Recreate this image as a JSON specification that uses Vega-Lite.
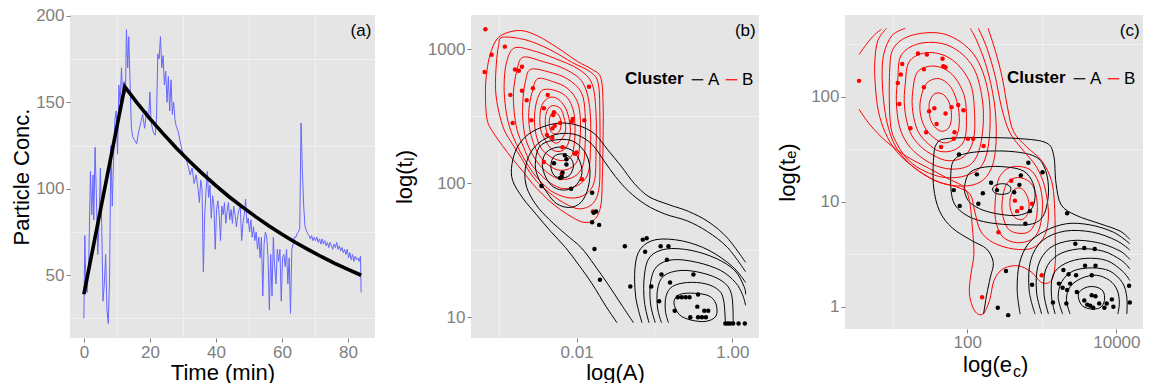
{
"$schema":"https://vega.github.io/schema/vega-lite/v6.json",
"padding":{"left":10,"top":6,"right":0,"bottom":0},
"background":"white",
"config":{
"view":{"fill":"#E5E5E5","stroke":null},
"font":"Liberation Sans",
"axis":{"labelFont":"Liberation Sans","titleFont":"Liberation Sans","labelFontSize":17,"labelColor":"#7F7F7F","titleFontSize":22,"titleFontWeight":"normal","titleColor":"#000000","tickColor":"#7F7F7F","tickSize":4,"labelPadding":2,"domain":false,"gridColor":"#FFFFFF","gridWidth":1.4,"labelFlush":false,"labelOverlap":false,"titlePadding":2},
"text":{"font":"Liberation Sans"}
},
"datasets":{
"blue":[{"t":0,"v":25},{"t":0.3,"v":73},{"t":0.6,"v":45},{"t":1,"v":40},{"t":1.5,"v":60},{"t":2,"v":110},{"t":2.4,"v":85},{"t":2.8,"v":108},{"t":3,"v":82},{"t":3.4,"v":124},{"t":3.8,"v":95},{"t":4.2,"v":62},{"t":4.6,"v":80},{"t":5,"v":112},{"t":5.4,"v":80},{"t":5.8,"v":35},{"t":6.2,"v":45},{"t":6.6,"v":62},{"t":7,"v":30},{"t":7.4,"v":22},{"t":7.8,"v":50},{"t":8.2,"v":125},{"t":8.6,"v":90},{"t":9,"v":118},{"t":9.4,"v":140},{"t":9.8,"v":145},{"t":10.2,"v":120},{"t":10.6,"v":160},{"t":11,"v":150},{"t":11.4,"v":170},{"t":11.8,"v":150},{"t":12.2,"v":162},{"t":12.6,"v":155},{"t":12.9,"v":192},{"t":13.3,"v":170},{"t":13.6,"v":188},{"t":14,"v":162},{"t":14.4,"v":135},{"t":14.8,"v":130},{"t":15.4,"v":128},{"t":16,"v":126},{"t":16.6,"v":133},{"t":17.2,"v":138},{"t":17.8,"v":143},{"t":18.4,"v":135},{"t":19,"v":145},{"t":19.6,"v":140},{"t":20,"v":156},{"t":20.4,"v":138},{"t":21,"v":133},{"t":21.6,"v":131},{"t":22,"v":140},{"t":22.4,"v":178},{"t":22.8,"v":175},{"t":23.2,"v":188},{"t":23.6,"v":170},{"t":24,"v":177},{"t":24.4,"v":160},{"t":24.8,"v":168},{"t":25.2,"v":150},{"t":25.6,"v":165},{"t":26,"v":145},{"t":26.4,"v":163},{"t":26.8,"v":143},{"t":27.2,"v":150},{"t":27.6,"v":140},{"t":28,"v":136},{"t":28.6,"v":133},{"t":29.2,"v":127},{"t":29.8,"v":122},{"t":30.4,"v":118},{"t":31,"v":117},{"t":31.6,"v":113},{"t":32.2,"v":108},{"t":32.8,"v":112},{"t":33.4,"v":103},{"t":34,"v":108},{"t":34.6,"v":100},{"t":35,"v":92},{"t":35.4,"v":105},{"t":35.8,"v":100},{"t":36.2,"v":52},{"t":36.6,"v":85},{"t":37,"v":98},{"t":37.4,"v":110},{"t":37.8,"v":95},{"t":38.2,"v":102},{"t":38.6,"v":83},{"t":39,"v":96},{"t":39.4,"v":90},{"t":39.8,"v":65},{"t":40.2,"v":88},{"t":40.6,"v":93},{"t":41,"v":85},{"t":41.4,"v":70},{"t":41.8,"v":90},{"t":42.2,"v":85},{"t":42.6,"v":92},{"t":43,"v":80},{"t":43.4,"v":87},{"t":43.8,"v":92},{"t":44.2,"v":82},{"t":44.6,"v":88},{"t":45,"v":80},{"t":45.4,"v":90},{"t":45.8,"v":85},{"t":46.2,"v":78},{"t":46.6,"v":84},{"t":47,"v":88},{"t":47.4,"v":90},{"t":47.8,"v":70},{"t":48.2,"v":80},{"t":48.6,"v":85},{"t":49,"v":94},{"t":49.4,"v":80},{"t":49.8,"v":83},{"t":50.2,"v":75},{"t":50.6,"v":82},{"t":51,"v":72},{"t":51.4,"v":78},{"t":51.8,"v":70},{"t":52.2,"v":75},{"t":52.6,"v":65},{"t":53,"v":72},{"t":53.4,"v":60},{"t":53.8,"v":72},{"t":54.2,"v":38},{"t":54.6,"v":68},{"t":55,"v":75},{"t":55.4,"v":72},{"t":55.8,"v":60},{"t":56.2,"v":30},{"t":56.6,"v":62},{"t":57,"v":38},{"t":57.4,"v":72},{"t":57.8,"v":55},{"t":58.2,"v":45},{"t":58.6,"v":65},{"t":59,"v":58},{"t":59.4,"v":65},{"t":59.8,"v":35},{"t":60.2,"v":60},{"t":60.6,"v":62},{"t":61,"v":55},{"t":61.4,"v":65},{"t":61.8,"v":45},{"t":62.2,"v":60},{"t":62.6,"v":28},{"t":63,"v":65},{"t":63.4,"v":68},{"t":63.8,"v":72},{"t":64.2,"v":72},{"t":64.6,"v":74},{"t":65,"v":75},{"t":65.4,"v":77},{"t":65.8,"v":138},{"t":66.2,"v":110},{"t":66.6,"v":90},{"t":67,"v":78},{"t":67.4,"v":76},{"t":67.8,"v":74},{"t":68.2,"v":73},{"t":68.6,"v":71},{"t":69,"v":73},{"t":69.4,"v":70},{"t":69.8,"v":72},{"t":70.2,"v":70},{"t":70.6,"v":72},{"t":71,"v":69},{"t":71.4,"v":71},{"t":71.8,"v":68},{"t":72.2,"v":71},{"t":72.6,"v":68},{"t":73,"v":70},{"t":73.4,"v":67},{"t":73.8,"v":69},{"t":74.2,"v":66},{"t":74.6,"v":69},{"t":75,"v":67},{"t":75.4,"v":65},{"t":75.8,"v":68},{"t":76.2,"v":66},{"t":76.6,"v":69},{"t":77,"v":65},{"t":77.4,"v":67},{"t":77.8,"v":64},{"t":78.2,"v":66},{"t":78.6,"v":63},{"t":79,"v":65},{"t":79.4,"v":62},{"t":79.8,"v":65},{"t":80.2,"v":60},{"t":80.6,"v":63},{"t":81,"v":59},{"t":81.4,"v":62},{"t":81.8,"v":58},{"t":82.2,"v":61},{"t":82.6,"v":59},{"t":83,"v":60},{"t":83.4,"v":58},{"t":83.8,"v":61},{"t":84,"v":40}],
"fit":[{"t":0,"f":39},{"t":12.4,"f":159},{"t":16,"f":150},{"t":20,"f":140.6},{"t":24,"f":131.9},{"t":28,"f":123.6},{"t":32,"f":115.9},{"t":36,"f":108.6},{"t":40,"f":101.8},{"t":44,"f":95.4},{"t":48,"f":89.5},{"t":52,"f":83.9},{"t":56,"f":78.6},{"t":60,"f":73.7},{"t":64,"f":69.1},{"t":68,"f":64.8},{"t":72,"f":60.7},{"t":76,"f":56.9},{"t":80,"f":53.4},{"t":84,"f":50}],
"bClosed":[
{"id":"R1","i":0,"x":-2.29,"y":2.53,"cl":"B"},{"id":"R1","i":1,"x":-2.23,"y":2.51,"cl":"B"},{"id":"R1","i":2,"x":-2.2,"y":2.46,"cl":"B"},{"id":"R1","i":3,"x":-2.21,"y":2.4,"cl":"B"},{"id":"R1","i":4,"x":-2.26,"y":2.37,"cl":"B"},{"id":"R1","i":5,"x":-2.32,"y":2.38,"cl":"B"},{"id":"R1","i":6,"x":-2.35,"y":2.43,"cl":"B"},{"id":"R1","i":7,"x":-2.34,"y":2.5,"cl":"B"},
{"id":"R2","i":0,"x":-2.31,"y":2.58,"cl":"B"},{"id":"R2","i":1,"x":-2.21,"y":2.56,"cl":"B"},{"id":"R2","i":2,"x":-2.16,"y":2.49,"cl":"B"},{"id":"R2","i":3,"x":-2.14,"y":2.4,"cl":"B"},{"id":"R2","i":4,"x":-2.19,"y":2.33,"cl":"B"},{"id":"R2","i":5,"x":-2.26,"y":2.3,"cl":"B"},{"id":"R2","i":6,"x":-2.34,"y":2.33,"cl":"B"},{"id":"R2","i":7,"x":-2.39,"y":2.4,"cl":"B"},{"id":"R2","i":8,"x":-2.4,"y":2.49,"cl":"B"},{"id":"R2","i":9,"x":-2.37,"y":2.55,"cl":"B"},
{"id":"R3","i":0,"x":-2.35,"y":2.64,"cl":"B"},{"id":"R3","i":1,"x":-2.24,"y":2.63,"cl":"B"},{"id":"R3","i":2,"x":-2.14,"y":2.56,"cl":"B"},{"id":"R3","i":3,"x":-2.09,"y":2.46,"cl":"B"},{"id":"R3","i":4,"x":-2.08,"y":2.37,"cl":"B"},{"id":"R3","i":5,"x":-2.12,"y":2.28,"cl":"B"},{"id":"R3","i":6,"x":-2.2,"y":2.24,"cl":"B"},{"id":"R3","i":7,"x":-2.31,"y":2.25,"cl":"B"},{"id":"R3","i":8,"x":-2.4,"y":2.32,"cl":"B"},{"id":"R3","i":9,"x":-2.46,"y":2.4,"cl":"B"},{"id":"R3","i":10,"x":-2.47,"y":2.5,"cl":"B"},{"id":"R3","i":11,"x":-2.44,"y":2.59,"cl":"B"},
{"id":"R4","i":0,"x":-2.42,"y":2.7,"cl":"B"},{"id":"R4","i":1,"x":-2.26,"y":2.69,"cl":"B"},{"id":"R4","i":2,"x":-2.12,"y":2.64,"cl":"B"},{"id":"R4","i":3,"x":-2.04,"y":2.54,"cl":"B"},{"id":"R4","i":4,"x":-2.02,"y":2.42,"cl":"B"},{"id":"R4","i":5,"x":-2.03,"y":2.29,"cl":"B"},{"id":"R4","i":6,"x":-2.07,"y":2.2,"cl":"B"},{"id":"R4","i":7,"x":-2.18,"y":2.17,"cl":"B"},{"id":"R4","i":8,"x":-2.31,"y":2.19,"cl":"B"},{"id":"R4","i":9,"x":-2.44,"y":2.25,"cl":"B"},{"id":"R4","i":10,"x":-2.51,"y":2.34,"cl":"B"},{"id":"R4","i":11,"x":-2.54,"y":2.45,"cl":"B"},{"id":"R4","i":12,"x":-2.53,"y":2.56,"cl":"B"},{"id":"R4","i":13,"x":-2.49,"y":2.65,"cl":"B"},
{"id":"R5","i":0,"x":-2.5,"y":2.78,"cl":"B"},{"id":"R5","i":1,"x":-2.31,"y":2.76,"cl":"B"},{"id":"R5","i":2,"x":-2.12,"y":2.71,"cl":"B"},{"id":"R5","i":3,"x":-1.99,"y":2.61,"cl":"B"},{"id":"R5","i":4,"x":-1.95,"y":2.47,"cl":"B"},{"id":"R5","i":5,"x":-1.96,"y":2.29,"cl":"B"},{"id":"R5","i":6,"x":-1.99,"y":2.17,"cl":"B"},{"id":"R5","i":7,"x":-2.09,"y":2.11,"cl":"B"},{"id":"R5","i":8,"x":-2.24,"y":2.1,"cl":"B"},{"id":"R5","i":9,"x":-2.39,"y":2.15,"cl":"B"},{"id":"R5","i":10,"x":-2.5,"y":2.23,"cl":"B"},{"id":"R5","i":11,"x":-2.57,"y":2.33,"cl":"B"},{"id":"R5","i":12,"x":-2.61,"y":2.44,"cl":"B"},{"id":"R5","i":13,"x":-2.61,"y":2.56,"cl":"B"},{"id":"R5","i":14,"x":-2.57,"y":2.68,"cl":"B"},
{"id":"R6","i":0,"x":-2.59,"y":2.85,"cl":"B"},{"id":"R6","i":1,"x":-2.35,"y":2.83,"cl":"B"},{"id":"R6","i":2,"x":-2.12,"y":2.78,"cl":"B"},{"id":"R6","i":3,"x":-1.94,"y":2.68,"cl":"B"},{"id":"R6","i":4,"x":-1.89,"y":2.52,"cl":"B"},{"id":"R6","i":5,"x":-1.89,"y":2.29,"cl":"B"},{"id":"R6","i":6,"x":-1.92,"y":2.13,"cl":"B"},{"id":"R6","i":7,"x":-2.03,"y":2.05,"cl":"B"},{"id":"R6","i":8,"x":-2.2,"y":2.03,"cl":"B"},{"id":"R6","i":9,"x":-2.35,"y":2.07,"cl":"B"},{"id":"R6","i":10,"x":-2.48,"y":2.14,"cl":"B"},{"id":"R6","i":11,"x":-2.59,"y":2.24,"cl":"B"},{"id":"R6","i":12,"x":-2.66,"y":2.35,"cl":"B"},{"id":"R6","i":13,"x":-2.69,"y":2.48,"cl":"B"},{"id":"R6","i":14,"x":-2.69,"y":2.61,"cl":"B"},{"id":"R6","i":15,"x":-2.66,"y":2.75,"cl":"B"},
{"id":"R7","i":0,"x":-2.69,"y":2.94,"cl":"B"},{"id":"R7","i":1,"x":-2.44,"y":2.91,"cl":"B"},{"id":"R7","i":2,"x":-2.14,"y":2.85,"cl":"B"},{"id":"R7","i":3,"x":-1.92,"y":2.75,"cl":"B"},{"id":"R7","i":4,"x":-1.83,"y":2.56,"cl":"B"},{"id":"R7","i":5,"x":-1.82,"y":2.29,"cl":"B"},{"id":"R7","i":6,"x":-1.85,"y":2.08,"cl":"B"},{"id":"R7","i":7,"x":-1.97,"y":1.99,"cl":"B"},{"id":"R7","i":8,"x":-2.16,"y":1.96,"cl":"B"},{"id":"R7","i":9,"x":-2.33,"y":2.0,"cl":"B"},{"id":"R7","i":10,"x":-2.47,"y":2.07,"cl":"B"},{"id":"R7","i":11,"x":-2.59,"y":2.15,"cl":"B"},{"id":"R7","i":12,"x":-2.68,"y":2.27,"cl":"B"},{"id":"R7","i":13,"x":-2.76,"y":2.39,"cl":"B"},{"id":"R7","i":14,"x":-2.8,"y":2.53,"cl":"B"},{"id":"R7","i":15,"x":-2.81,"y":2.68,"cl":"B"},{"id":"R7","i":16,"x":-2.77,"y":2.83,"cl":"B"},
{"id":"R8","i":0,"x":-2.8,"y":3.01,"cl":"B"},{"id":"R8","i":1,"x":-2.56,"y":2.99,"cl":"B"},{"id":"R8","i":2,"x":-2.27,"y":2.93,"cl":"B"},{"id":"R8","i":3,"x":-1.97,"y":2.85,"cl":"B"},{"id":"R8","i":4,"x":-1.8,"y":2.74,"cl":"B"},{"id":"R8","i":5,"x":-1.75,"y":2.52,"cl":"B"},{"id":"R8","i":6,"x":-1.75,"y":2.24,"cl":"B"},{"id":"R8","i":7,"x":-1.77,"y":2.02,"cl":"B"},{"id":"R8","i":8,"x":-1.88,"y":1.92,"cl":"B"},{"id":"R8","i":9,"x":-2.07,"y":1.89,"cl":"B"},{"id":"R8","i":10,"x":-2.29,"y":1.93,"cl":"B"},{"id":"R8","i":11,"x":-2.44,"y":2.0,"cl":"B"},{"id":"R8","i":12,"x":-2.56,"y":2.08,"cl":"B"},{"id":"R8","i":13,"x":-2.67,"y":2.18,"cl":"B"},{"id":"R8","i":14,"x":-2.77,"y":2.29,"cl":"B"},{"id":"R8","i":15,"x":-2.86,"y":2.42,"cl":"B"},{"id":"R8","i":16,"x":-2.91,"y":2.56,"cl":"B"},{"id":"R8","i":17,"x":-2.93,"y":2.73,"cl":"B"},{"id":"R8","i":18,"x":-2.9,"y":2.9,"cl":"B"},
{"id":"R9","i":0,"x":-2.95,"y":3.09,"cl":"B"},{"id":"R9","i":1,"x":-2.65,"y":3.07,"cl":"B"},{"id":"R9","i":2,"x":-2.35,"y":3.0,"cl":"B"},{"id":"R9","i":3,"x":-2.05,"y":2.9,"cl":"B"},{"id":"R9","i":4,"x":-1.82,"y":2.83,"cl":"B"},{"id":"R9","i":5,"x":-1.72,"y":2.74,"cl":"B"},{"id":"R9","i":6,"x":-1.7,"y":2.49,"cl":"B"},{"id":"R9","i":7,"x":-1.7,"y":2.22,"cl":"B"},{"id":"R9","i":8,"x":-1.71,"y":1.97,"cl":"B"},{"id":"R9","i":9,"x":-1.79,"y":1.85,"cl":"B"},{"id":"R9","i":10,"x":-1.97,"y":1.81,"cl":"B"},{"id":"R9","i":11,"x":-2.18,"y":1.86,"cl":"B"},{"id":"R9","i":12,"x":-2.35,"y":1.93,"cl":"B"},{"id":"R9","i":13,"x":-2.49,"y":2.0,"cl":"B"},{"id":"R9","i":14,"x":-2.61,"y":2.09,"cl":"B"},{"id":"R9","i":15,"x":-2.71,"y":2.19,"cl":"B"},{"id":"R9","i":16,"x":-2.82,"y":2.29,"cl":"B"},{"id":"R9","i":17,"x":-2.93,"y":2.4,"cl":"B"},{"id":"R9","i":18,"x":-3.0,"y":2.54,"cl":"B"},{"id":"R9","i":19,"x":-3.04,"y":2.7,"cl":"B"},{"id":"R9","i":20,"x":-3.03,"y":2.89,"cl":"B"},{"id":"R9","i":21,"x":-3.0,"y":3.03,"cl":"B"},
{"id":"R10","i":0,"x":-3.17,"y":2.69,"cl":"B"},{"id":"R10","i":1,"x":-3.15,"y":2.84,"cl":"B"},{"id":"R10","i":2,"x":-3.11,"y":2.96,"cl":"B"},{"id":"R10","i":3,"x":-3.03,"y":3.07,"cl":"B"},{"id":"R10","i":4,"x":-2.91,"y":3.12,"cl":"B"},{"id":"R10","i":5,"x":-2.71,"y":3.14,"cl":"B"},{"id":"R10","i":6,"x":-2.5,"y":3.1,"cl":"B"},{"id":"R10","i":7,"x":-2.24,"y":3.01,"cl":"B"},{"id":"R10","i":8,"x":-1.99,"y":2.91,"cl":"B"},{"id":"R10","i":9,"x":-1.8,"y":2.85,"cl":"B"},{"id":"R10","i":10,"x":-1.69,"y":2.79,"cl":"B"},{"id":"R10","i":11,"x":-1.66,"y":2.61,"cl":"B"},{"id":"R10","i":12,"x":-1.66,"y":2.32,"cl":"B"},{"id":"R10","i":13,"x":-1.67,"y":2.02,"cl":"B"},{"id":"R10","i":14,"x":-1.69,"y":1.83,"cl":"B"},{"id":"R10","i":15,"x":-1.77,"y":1.73,"cl":"B"},{"id":"R10","i":16,"x":-1.92,"y":1.71,"cl":"B"},{"id":"R10","i":17,"x":-2.12,"y":1.77,"cl":"B"},{"id":"R10","i":18,"x":-2.29,"y":1.84,"cl":"B"},{"id":"R10","i":19,"x":-2.44,"y":1.92,"cl":"B"},{"id":"R10","i":20,"x":-2.57,"y":2.0,"cl":"B"},{"id":"R10","i":21,"x":-2.69,"y":2.09,"cl":"B"},{"id":"R10","i":22,"x":-2.82,"y":2.18,"cl":"B"},{"id":"R10","i":23,"x":-2.95,"y":2.28,"cl":"B"},{"id":"R10","i":24,"x":-3.07,"y":2.38,"cl":"B"},{"id":"R10","i":25,"x":-3.15,"y":2.48,"cl":"B"},
{"id":"U1","i":0,"x":-2.33,"y":2.13,"cl":"A"},{"id":"U1","i":1,"x":-2.29,"y":2.2,"cl":"A"},{"id":"U1","i":2,"x":-2.18,"y":2.22,"cl":"A"},{"id":"U1","i":3,"x":-2.08,"y":2.19,"cl":"A"},{"id":"U1","i":4,"x":-2.04,"y":2.13,"cl":"A"},{"id":"U1","i":5,"x":-2.09,"y":2.06,"cl":"A"},{"id":"U1","i":6,"x":-2.19,"y":2.04,"cl":"A"},{"id":"U1","i":7,"x":-2.29,"y":2.06,"cl":"A"},
{"id":"U2","i":0,"x":-2.44,"y":2.14,"cl":"A"},{"id":"U2","i":1,"x":-2.39,"y":2.23,"cl":"A"},{"id":"U2","i":2,"x":-2.24,"y":2.27,"cl":"A"},{"id":"U2","i":3,"x":-2.07,"y":2.25,"cl":"A"},{"id":"U2","i":4,"x":-1.97,"y":2.18,"cl":"A"},{"id":"U2","i":5,"x":-1.93,"y":2.08,"cl":"A"},{"id":"U2","i":6,"x":-2.0,"y":1.99,"cl":"A"},{"id":"U2","i":7,"x":-2.14,"y":1.95,"cl":"A"},{"id":"U2","i":8,"x":-2.29,"y":1.97,"cl":"A"},{"id":"U2","i":9,"x":-2.39,"y":2.04,"cl":"A"},
{"id":"U3","i":0,"x":-2.53,"y":2.14,"cl":"A"},{"id":"U3","i":1,"x":-2.48,"y":2.27,"cl":"A"},{"id":"U3","i":2,"x":-2.31,"y":2.32,"cl":"A"},{"id":"U3","i":3,"x":-2.07,"y":2.32,"cl":"A"},{"id":"U3","i":4,"x":-1.9,"y":2.24,"cl":"A"},{"id":"U3","i":5,"x":-1.83,"y":2.12,"cl":"A"},{"id":"U3","i":6,"x":-1.85,"y":1.97,"cl":"A"},{"id":"U3","i":7,"x":-1.94,"y":1.86,"cl":"A"},{"id":"U3","i":8,"x":-2.09,"y":1.82,"cl":"A"},{"id":"U3","i":9,"x":-2.26,"y":1.85,"cl":"A"},{"id":"U3","i":10,"x":-2.39,"y":1.94,"cl":"A"},{"id":"U3","i":11,"x":-2.49,"y":2.04,"cl":"A"},
{"id":"L1","i":0,"x":-0.75,"y":1.11,"cl":"A"},{"id":"L1","i":1,"x":-0.68,"y":1.17,"cl":"A"},{"id":"L1","i":2,"x":-0.49,"y":1.18,"cl":"A"},{"id":"L1","i":3,"x":-0.3,"y":1.16,"cl":"A"},{"id":"L1","i":4,"x":-0.21,"y":1.1,"cl":"A"},{"id":"L1","i":5,"x":-0.21,"y":1.01,"cl":"A"},{"id":"L1","i":6,"x":-0.34,"y":0.97,"cl":"A"},{"id":"L1","i":7,"x":-0.53,"y":0.98,"cl":"A"},{"id":"L1","i":8,"x":-0.68,"y":1.02,"cl":"A"}
],
"bOpen":[
{"id":"L2","i":0,"x":-0.82,"y":0.96,"cl":"A"},{"id":"L2","i":1,"x":-0.86,"y":1.05,"cl":"A"},{"id":"L2","i":2,"x":-0.85,"y":1.16,"cl":"A"},{"id":"L2","i":3,"x":-0.77,"y":1.23,"cl":"A"},{"id":"L2","i":4,"x":-0.58,"y":1.26,"cl":"A"},{"id":"L2","i":5,"x":-0.34,"y":1.25,"cl":"A"},{"id":"L2","i":6,"x":-0.17,"y":1.2,"cl":"A"},{"id":"L2","i":7,"x":-0.11,"y":1.12,"cl":"A"},{"id":"L2","i":8,"x":-0.09,"y":0.96,"cl":"A"},
{"id":"L3","i":0,"x":-0.91,"y":0.96,"cl":"A"},{"id":"L3","i":1,"x":-0.96,"y":1.07,"cl":"A"},{"id":"L3","i":2,"x":-0.96,"y":1.21,"cl":"A"},{"id":"L3","i":3,"x":-0.88,"y":1.31,"cl":"A"},{"id":"L3","i":4,"x":-0.66,"y":1.35,"cl":"A"},{"id":"L3","i":5,"x":-0.38,"y":1.33,"cl":"A"},{"id":"L3","i":6,"x":-0.13,"y":1.27,"cl":"A"},{"id":"L3","i":7,"x":-0.01,"y":1.17,"cl":"A"},{"id":"L3","i":8,"x":0.01,"y":0.96,"cl":"A"},
{"id":"L4","i":0,"x":-0.99,"y":0.96,"cl":"A"},{"id":"L4","i":1,"x":-1.05,"y":1.1,"cl":"A"},{"id":"L4","i":2,"x":-1.05,"y":1.26,"cl":"A"},{"id":"L4","i":3,"x":-0.97,"y":1.38,"cl":"A"},{"id":"L4","i":4,"x":-0.76,"y":1.43,"cl":"A"},{"id":"L4","i":5,"x":-0.45,"y":1.41,"cl":"A"},{"id":"L4","i":6,"x":-0.15,"y":1.35,"cl":"A"},{"id":"L4","i":7,"x":0.04,"y":1.26,"cl":"A"},{"id":"L4","i":8,"x":0.13,"y":1.17,"cl":"A"},{"id":"L4","i":9,"x":0.17,"y":1.09,"cl":"A"},
{"id":"L5","i":0,"x":-1.07,"y":0.96,"cl":"A"},{"id":"L5","i":1,"x":-1.13,"y":1.12,"cl":"A"},{"id":"L5","i":2,"x":-1.13,"y":1.31,"cl":"A"},{"id":"L5","i":3,"x":-1.06,"y":1.45,"cl":"A"},{"id":"L5","i":4,"x":-0.85,"y":1.51,"cl":"A"},{"id":"L5","i":5,"x":-0.53,"y":1.5,"cl":"A"},{"id":"L5","i":6,"x":-0.21,"y":1.44,"cl":"A"},{"id":"L5","i":7,"x":0.03,"y":1.35,"cl":"A"},{"id":"L5","i":8,"x":0.15,"y":1.23,"cl":"A"},{"id":"L5","i":9,"x":0.17,"y":1.17,"cl":"A"},
{"id":"L6","i":0,"x":-1.16,"y":0.96,"cl":"A"},{"id":"L6","i":1,"x":-1.24,"y":1.15,"cl":"A"},{"id":"L6","i":2,"x":-1.25,"y":1.37,"cl":"A"},{"id":"L6","i":3,"x":-1.18,"y":1.51,"cl":"A"},{"id":"L6","i":4,"x":-0.98,"y":1.58,"cl":"A"},{"id":"L6","i":5,"x":-0.64,"y":1.57,"cl":"A"},{"id":"L6","i":6,"x":-0.3,"y":1.5,"cl":"A"},{"id":"L6","i":7,"x":0.0,"y":1.38,"cl":"A"},{"id":"L6","i":8,"x":0.17,"y":1.26,"cl":"A"},
{"id":"O1","i":0,"x":-1.27,"y":0.96,"cl":"A"},{"id":"O1","i":1,"x":-1.43,"y":1.1,"cl":"A"},{"id":"O1","i":2,"x":-1.6,"y":1.25,"cl":"A"},{"id":"O1","i":3,"x":-1.77,"y":1.39,"cl":"A"},{"id":"O1","i":4,"x":-1.94,"y":1.52,"cl":"A"},{"id":"O1","i":5,"x":-2.14,"y":1.62,"cl":"A"},{"id":"O1","i":6,"x":-2.35,"y":1.73,"cl":"A"},{"id":"O1","i":7,"x":-2.52,"y":1.84,"cl":"A"},{"id":"O1","i":8,"x":-2.64,"y":1.97,"cl":"A"},{"id":"O1","i":9,"x":-2.66,"y":2.1,"cl":"A"},{"id":"O1","i":10,"x":-2.59,"y":2.23,"cl":"A"},{"id":"O1","i":11,"x":-2.44,"y":2.32,"cl":"A"},{"id":"O1","i":12,"x":-2.22,"y":2.37,"cl":"A"},{"id":"O1","i":13,"x":-1.99,"y":2.36,"cl":"A"},{"id":"O1","i":14,"x":-1.8,"y":2.29,"cl":"A"},{"id":"O1","i":15,"x":-1.65,"y":2.17,"cl":"A"},{"id":"O1","i":16,"x":-1.5,"y":2.05,"cl":"A"},{"id":"O1","i":17,"x":-1.33,"y":1.94,"cl":"A"},{"id":"O1","i":18,"x":-1.11,"y":1.84,"cl":"A"},{"id":"O1","i":19,"x":-0.86,"y":1.77,"cl":"A"},{"id":"O1","i":20,"x":-0.58,"y":1.72,"cl":"A"},{"id":"O1","i":21,"x":-0.32,"y":1.64,"cl":"A"},{"id":"O1","i":22,"x":-0.06,"y":1.52,"cl":"A"},{"id":"O1","i":23,"x":0.17,"y":1.34,"cl":"A"},
{"id":"O2","i":0,"x":-1.48,"y":0.96,"cl":"A"},{"id":"O2","i":1,"x":-1.62,"y":1.08,"cl":"A"},{"id":"O2","i":2,"x":-1.8,"y":1.25,"cl":"A"},{"id":"O2","i":3,"x":-1.97,"y":1.39,"cl":"A"},{"id":"O2","i":4,"x":-2.14,"y":1.52,"cl":"A"},{"id":"O2","i":5,"x":-2.33,"y":1.64,"cl":"A"},{"id":"O2","i":6,"x":-2.52,"y":1.77,"cl":"A"},{"id":"O2","i":7,"x":-2.69,"y":1.89,"cl":"A"},{"id":"O2","i":8,"x":-2.82,"y":2.02,"cl":"A"},{"id":"O2","i":9,"x":-2.83,"y":2.14,"cl":"A"},{"id":"O2","i":10,"x":-2.76,"y":2.27,"cl":"A"},{"id":"O2","i":11,"x":-2.61,"y":2.37,"cl":"A"},{"id":"O2","i":12,"x":-2.39,"y":2.43,"cl":"A"},{"id":"O2","i":13,"x":-2.18,"y":2.45,"cl":"A"},{"id":"O2","i":14,"x":-1.97,"y":2.43,"cl":"A"},{"id":"O2","i":15,"x":-1.77,"y":2.37,"cl":"A"},{"id":"O2","i":16,"x":-1.6,"y":2.25,"cl":"A"},{"id":"O2","i":17,"x":-1.43,"y":2.13,"cl":"A"},{"id":"O2","i":18,"x":-1.26,"y":2.0,"cl":"A"},{"id":"O2","i":19,"x":-1.07,"y":1.9,"cl":"A"},{"id":"O2","i":20,"x":-0.81,"y":1.84,"cl":"A"},{"id":"O2","i":21,"x":-0.56,"y":1.79,"cl":"A"},{"id":"O2","i":22,"x":-0.3,"y":1.71,"cl":"A"},{"id":"O2","i":23,"x":-0.06,"y":1.59,"cl":"A"},{"id":"O2","i":24,"x":0.17,"y":1.41,"cl":"A"}
],
"bPts":[
{"x":-3.17,"y":3.15,"cl":"B"},{"x":-3.18,"y":2.83,"cl":"B"},{"x":-3.09,"y":2.96,"cl":"B"},{"x":-2.92,"y":3.02,"cl":"B"},{"x":-2.79,"y":2.85,"cl":"B"},{"x":-2.74,"y":2.84,"cl":"B"},{"x":-2.7,"y":2.87,"cl":"B"},{"x":-2.85,"y":2.66,"cl":"B"},{"x":-2.7,"y":2.69,"cl":"B"},{"x":-2.56,"y":2.71,"cl":"B"},{"x":-2.64,"y":2.62,"cl":"B"},{"x":-2.37,"y":2.66,"cl":"B"},{"x":-1.84,"y":2.72,"cl":"B"},{"x":-2.42,"y":2.56,"cl":"B"},{"x":-2.29,"y":2.53,"cl":"B"},{"x":-2.3,"y":2.51,"cl":"B"},{"x":-2.58,"y":2.47,"cl":"B"},{"x":-2.82,"y":2.45,"cl":"B"},{"x":-2.21,"y":2.45,"cl":"B"},{"x":-2.28,"y":2.43,"cl":"B"},{"x":-2.31,"y":2.41,"cl":"B"},{"x":-2.05,"y":2.48,"cl":"B"},{"x":-2.06,"y":2.46,"cl":"B"},{"x":-1.9,"y":2.47,"cl":"B"},{"x":-2.38,"y":2.36,"cl":"B"},{"x":-2.31,"y":2.34,"cl":"B"},{"x":-2.18,"y":2.27,"cl":"B"},{"x":-2.42,"y":2.16,"cl":"B"},{"x":-2.02,"y":2.22,"cl":"B"},{"x":-2.0,"y":2.23,"cl":"B"},{"x":-2.19,"y":2.07,"cl":"B"},{"x":-1.93,"y":2.03,"cl":"B"},{"x":-1.79,"y":1.79,"cl":"B"},
{"x":-2.15,"y":2.21,"cl":"A"},{"x":-2.29,"y":2.15,"cl":"A"},{"x":-2.13,"y":2.14,"cl":"A"},{"x":-2.13,"y":2.18,"cl":"A"},{"x":-2.18,"y":2.08,"cl":"A"},{"x":-2.19,"y":2.05,"cl":"A"},{"x":-2.21,"y":2.04,"cl":"A"},{"x":-2.45,"y":1.98,"cl":"A"},{"x":-2.07,"y":1.96,"cl":"A"},{"x":-1.8,"y":1.93,"cl":"A"},{"x":-1.78,"y":1.78,"cl":"A"},{"x":-1.75,"y":1.79,"cl":"A"},{"x":-1.8,"y":1.71,"cl":"A"},{"x":-1.71,"y":1.69,"cl":"A"},{"x":-1.77,"y":1.51,"cl":"A"},{"x":-1.7,"y":1.28,"cl":"A"},{"x":-1.38,"y":1.53,"cl":"A"},{"x":-1.15,"y":1.58,"cl":"A"},{"x":-1.1,"y":1.59,"cl":"A"},{"x":-1.12,"y":1.49,"cl":"A"},{"x":-0.92,"y":1.53,"cl":"A"},{"x":-0.82,"y":1.53,"cl":"A"},{"x":-0.84,"y":1.43,"cl":"A"},{"x":-1.31,"y":1.23,"cl":"A"},{"x":-1.04,"y":1.23,"cl":"A"},{"x":-0.91,"y":1.32,"cl":"A"},{"x":-0.8,"y":1.26,"cl":"A"},{"x":-0.5,"y":1.32,"cl":"A"},{"x":-0.7,"y":1.15,"cl":"A"},{"x":-0.65,"y":1.15,"cl":"A"},{"x":-0.6,"y":1.15,"cl":"A"},{"x":-0.55,"y":1.15,"cl":"A"},{"x":-0.44,"y":1.17,"cl":"A"},{"x":-0.94,"y":1.12,"cl":"A"},{"x":-0.74,"y":1.05,"cl":"A"},{"x":-0.45,"y":1.08,"cl":"A"},{"x":-0.36,"y":1.05,"cl":"A"},{"x":-0.31,"y":1.05,"cl":"A"},{"x":-0.54,"y":1.0,"cl":"A"},{"x":-0.44,"y":1.0,"cl":"A"},{"x":-0.39,"y":1.0,"cl":"A"},{"x":-0.34,"y":1.0,"cl":"A"},{"x":-0.09,"y":0.955,"cl":"A"},{"x":-0.06,"y":0.955,"cl":"A"},{"x":-0.03,"y":0.955,"cl":"A"},{"x":0.01,"y":0.955,"cl":"A"},{"x":0.08,"y":0.955,"cl":"A"},{"x":0.16,"y":0.955,"cl":"A"}
],
"cClosed":[
{"id":"C1","i":0,"x":1.5,"y":1.96,"cl":"B"},{"id":"C1","i":1,"x":1.57,"y":2.03,"cl":"B"},{"id":"C1","i":2,"x":1.68,"y":2.02,"cl":"B"},{"id":"C1","i":3,"x":1.76,"y":1.94,"cl":"B"},{"id":"C1","i":4,"x":1.79,"y":1.82,"cl":"B"},{"id":"C1","i":5,"x":1.76,"y":1.71,"cl":"B"},{"id":"C1","i":6,"x":1.67,"y":1.67,"cl":"B"},{"id":"C1","i":7,"x":1.58,"y":1.7,"cl":"B"},{"id":"C1","i":8,"x":1.51,"y":1.78,"cl":"B"},{"id":"C1","i":9,"x":1.49,"y":1.88,"cl":"B"},
{"id":"C2","i":0,"x":1.38,"y":1.99,"cl":"B"},{"id":"C2","i":1,"x":1.46,"y":2.13,"cl":"B"},{"id":"C2","i":2,"x":1.63,"y":2.17,"cl":"B"},{"id":"C2","i":3,"x":1.79,"y":2.08,"cl":"B"},{"id":"C2","i":4,"x":1.88,"y":1.9,"cl":"B"},{"id":"C2","i":5,"x":1.89,"y":1.71,"cl":"B"},{"id":"C2","i":6,"x":1.83,"y":1.6,"cl":"B"},{"id":"C2","i":7,"x":1.69,"y":1.56,"cl":"B"},{"id":"C2","i":8,"x":1.55,"y":1.61,"cl":"B"},{"id":"C2","i":9,"x":1.43,"y":1.71,"cl":"B"},{"id":"C2","i":10,"x":1.37,"y":1.85,"cl":"B"},
{"id":"C3","i":0,"x":1.27,"y":2.05,"cl":"B"},{"id":"C3","i":1,"x":1.34,"y":2.24,"cl":"B"},{"id":"C3","i":2,"x":1.57,"y":2.29,"cl":"B"},{"id":"C3","i":3,"x":1.8,"y":2.21,"cl":"B"},{"id":"C3","i":4,"x":1.96,"y":2.01,"cl":"B"},{"id":"C3","i":5,"x":1.99,"y":1.77,"cl":"B"},{"id":"C3","i":6,"x":1.96,"y":1.58,"cl":"B"},{"id":"C3","i":7,"x":1.82,"y":1.49,"cl":"B"},{"id":"C3","i":8,"x":1.63,"y":1.48,"cl":"B"},{"id":"C3","i":9,"x":1.48,"y":1.55,"cl":"B"},{"id":"C3","i":10,"x":1.34,"y":1.67,"cl":"B"},{"id":"C3","i":11,"x":1.27,"y":1.86,"cl":"B"},
{"id":"C4","i":0,"x":1.17,"y":2.12,"cl":"B"},{"id":"C4","i":1,"x":1.23,"y":2.34,"cl":"B"},{"id":"C4","i":2,"x":1.49,"y":2.42,"cl":"B"},{"id":"C4","i":3,"x":1.8,"y":2.35,"cl":"B"},{"id":"C4","i":4,"x":2.04,"y":2.13,"cl":"B"},{"id":"C4","i":5,"x":2.1,"y":1.83,"cl":"B"},{"id":"C4","i":6,"x":2.08,"y":1.58,"cl":"B"},{"id":"C4","i":7,"x":1.96,"y":1.43,"cl":"B"},{"id":"C4","i":8,"x":1.75,"y":1.39,"cl":"B"},{"id":"C4","i":9,"x":1.55,"y":1.44,"cl":"B"},{"id":"C4","i":10,"x":1.37,"y":1.53,"cl":"B"},{"id":"C4","i":11,"x":1.23,"y":1.67,"cl":"B"},{"id":"C4","i":12,"x":1.16,"y":1.9,"cl":"B"},
{"id":"C5","i":0,"x":1.07,"y":2.17,"cl":"B"},{"id":"C5","i":1,"x":1.12,"y":2.4,"cl":"B"},{"id":"C5","i":2,"x":1.39,"y":2.51,"cl":"B"},{"id":"C5","i":3,"x":1.77,"y":2.48,"cl":"B"},{"id":"C5","i":4,"x":2.08,"y":2.28,"cl":"B"},{"id":"C5","i":5,"x":2.21,"y":1.93,"cl":"B"},{"id":"C5","i":6,"x":2.19,"y":1.58,"cl":"B"},{"id":"C5","i":7,"x":2.07,"y":1.37,"cl":"B"},{"id":"C5","i":8,"x":1.84,"y":1.31,"cl":"B"},{"id":"C5","i":9,"x":1.59,"y":1.34,"cl":"B"},{"id":"C5","i":10,"x":1.37,"y":1.43,"cl":"B"},{"id":"C5","i":11,"x":1.2,"y":1.55,"cl":"B"},{"id":"C5","i":12,"x":1.09,"y":1.72,"cl":"B"},{"id":"C5","i":13,"x":1.05,"y":1.96,"cl":"B"},
{"id":"C6","i":0,"x":0.96,"y":2.23,"cl":"B"},{"id":"C6","i":1,"x":1.02,"y":2.47,"cl":"B"},{"id":"C6","i":2,"x":1.29,"y":2.59,"cl":"B"},{"id":"C6","i":3,"x":1.72,"y":2.59,"cl":"B"},{"id":"C6","i":4,"x":2.09,"y":2.4,"cl":"B"},{"id":"C6","i":5,"x":2.28,"y":2.05,"cl":"B"},{"id":"C6","i":6,"x":2.3,"y":1.64,"cl":"B"},{"id":"C6","i":7,"x":2.21,"y":1.36,"cl":"B"},{"id":"C6","i":8,"x":1.99,"y":1.25,"cl":"B"},{"id":"C6","i":9,"x":1.7,"y":1.23,"cl":"B"},{"id":"C6","i":10,"x":1.43,"y":1.29,"cl":"B"},{"id":"C6","i":11,"x":1.22,"y":1.39,"cl":"B"},{"id":"C6","i":12,"x":1.06,"y":1.55,"cl":"B"},{"id":"C6","i":13,"x":0.97,"y":1.75,"cl":"B"},
{"id":"S1","i":0,"x":2.58,"y":1.04,"cl":"B"},{"id":"S1","i":1,"x":2.64,"y":1.12,"cl":"B"},{"id":"S1","i":2,"x":2.74,"y":1.12,"cl":"B"},{"id":"S1","i":3,"x":2.82,"y":1.02,"cl":"B"},{"id":"S1","i":4,"x":2.82,"y":0.9,"cl":"B"},{"id":"S1","i":5,"x":2.74,"y":0.83,"cl":"B"},{"id":"S1","i":6,"x":2.64,"y":0.85,"cl":"B"},{"id":"S1","i":7,"x":2.58,"y":0.93,"cl":"B"},
{"id":"S2","i":0,"x":2.48,"y":1.06,"cl":"B"},{"id":"S2","i":1,"x":2.54,"y":1.18,"cl":"B"},{"id":"S2","i":2,"x":2.68,"y":1.23,"cl":"B"},{"id":"S2","i":3,"x":2.85,"y":1.18,"cl":"B"},{"id":"S2","i":4,"x":2.93,"y":1.04,"cl":"B"},{"id":"S2","i":5,"x":2.93,"y":0.85,"cl":"B"},{"id":"S2","i":6,"x":2.84,"y":0.72,"cl":"B"},{"id":"S2","i":7,"x":2.68,"y":0.7,"cl":"B"},{"id":"S2","i":8,"x":2.54,"y":0.75,"cl":"B"},{"id":"S2","i":9,"x":2.47,"y":0.9,"cl":"B"},
{"id":"S3","i":0,"x":2.38,"y":1.04,"cl":"B"},{"id":"S3","i":1,"x":2.43,"y":1.23,"cl":"B"},{"id":"S3","i":2,"x":2.59,"y":1.33,"cl":"B"},{"id":"S3","i":3,"x":2.83,"y":1.31,"cl":"B"},{"id":"S3","i":4,"x":2.96,"y":1.18,"cl":"B"},{"id":"S3","i":5,"x":3.01,"y":0.98,"cl":"B"},{"id":"S3","i":6,"x":2.97,"y":0.75,"cl":"B"},{"id":"S3","i":7,"x":2.86,"y":0.64,"cl":"B"},{"id":"S3","i":8,"x":2.66,"y":0.61,"cl":"B"},{"id":"S3","i":9,"x":2.47,"y":0.67,"cl":"B"},{"id":"S3","i":10,"x":2.38,"y":0.83,"cl":"B"},
{"id":"K1","i":0,"x":3.49,"y":0.12,"cl":"A"},{"id":"K1","i":1,"x":3.58,"y":0.18,"cl":"A"},{"id":"K1","i":2,"x":3.71,"y":0.19,"cl":"A"},{"id":"K1","i":3,"x":3.82,"y":0.15,"cl":"A"},{"id":"K1","i":4,"x":3.84,"y":0.06,"cl":"A"},{"id":"K1","i":5,"x":3.78,"y":-0.01,"cl":"A"},{"id":"K1","i":6,"x":3.64,"y":-0.02,"cl":"A"},{"id":"K1","i":7,"x":3.53,"y":0.02,"cl":"A"},
{"id":"M1","i":0,"x":2.34,"y":1.12,"cl":"A"},{"id":"M1","i":1,"x":2.39,"y":1.16,"cl":"A"},{"id":"M1","i":2,"x":2.5,"y":1.17,"cl":"A"},{"id":"M1","i":3,"x":2.58,"y":1.14,"cl":"A"},{"id":"M1","i":4,"x":2.57,"y":1.09,"cl":"A"},{"id":"M1","i":5,"x":2.48,"y":1.07,"cl":"A"},{"id":"M1","i":6,"x":2.38,"y":1.08,"cl":"A"},
{"id":"M2","i":0,"x":1.97,"y":1.17,"cl":"A"},{"id":"M2","i":1,"x":2.04,"y":1.28,"cl":"A"},{"id":"M2","i":2,"x":2.24,"y":1.33,"cl":"A"},{"id":"M2","i":3,"x":2.53,"y":1.33,"cl":"A"},{"id":"M2","i":4,"x":2.76,"y":1.29,"cl":"A"},{"id":"M2","i":5,"x":2.88,"y":1.18,"cl":"A"},{"id":"M2","i":6,"x":2.91,"y":1.04,"cl":"A"},{"id":"M2","i":7,"x":2.85,"y":0.92,"cl":"A"},{"id":"M2","i":8,"x":2.68,"y":0.87,"cl":"A"},{"id":"M2","i":9,"x":2.44,"y":0.88,"cl":"A"},{"id":"M2","i":10,"x":2.21,"y":0.92,"cl":"A"},{"id":"M2","i":11,"x":2.04,"y":0.99,"cl":"A"},{"id":"M2","i":12,"x":1.97,"y":1.08,"cl":"A"},
{"id":"M3","i":0,"x":1.78,"y":1.26,"cl":"A"},{"id":"M3","i":1,"x":1.84,"y":1.41,"cl":"A"},{"id":"M3","i":2,"x":2.08,"y":1.47,"cl":"A"},{"id":"M3","i":3,"x":2.55,"y":1.48,"cl":"A"},{"id":"M3","i":4,"x":2.91,"y":1.43,"cl":"A"},{"id":"M3","i":5,"x":3.05,"y":1.3,"cl":"A"},{"id":"M3","i":6,"x":3.09,"y":1.09,"cl":"A"},{"id":"M3","i":7,"x":3.03,"y":0.88,"cl":"A"},{"id":"M3","i":8,"x":2.88,"y":0.79,"cl":"A"},{"id":"M3","i":9,"x":2.58,"y":0.78,"cl":"A"},{"id":"M3","i":10,"x":2.22,"y":0.81,"cl":"A"},{"id":"M3","i":11,"x":1.97,"y":0.88,"cl":"A"},{"id":"M3","i":12,"x":1.81,"y":1.01,"cl":"A"}
],
"cOpen":[
{"id":"C7","i":0,"x":1.17,"y":2.65,"cl":"B"},{"id":"C7","i":1,"x":0.99,"y":2.58,"cl":"B"},{"id":"C7","i":2,"x":0.88,"y":2.4,"cl":"B"},{"id":"C7","i":3,"x":0.86,"y":2.18,"cl":"B"},{"id":"C7","i":4,"x":0.88,"y":1.96,"cl":"B"},{"id":"C7","i":5,"x":0.93,"y":1.74,"cl":"B"},{"id":"C7","i":6,"x":1.03,"y":1.54,"cl":"B"},{"id":"C7","i":7,"x":1.2,"y":1.38,"cl":"B"},{"id":"C7","i":8,"x":1.42,"y":1.26,"cl":"B"},{"id":"C7","i":9,"x":1.69,"y":1.17,"cl":"B"},{"id":"C7","i":10,"x":2.0,"y":1.15,"cl":"B"},{"id":"C7","i":11,"x":2.22,"y":1.21,"cl":"B"},{"id":"C7","i":12,"x":2.35,"y":1.37,"cl":"B"},{"id":"C7","i":13,"x":2.39,"y":1.64,"cl":"B"},{"id":"C7","i":14,"x":2.36,"y":1.96,"cl":"B"},{"id":"C7","i":15,"x":2.26,"y":2.28,"cl":"B"},{"id":"C7","i":16,"x":2.13,"y":2.53,"cl":"B"},{"id":"C7","i":17,"x":2.04,"y":2.65,"cl":"B"},
{"id":"C8","i":0,"x":0.92,"y":2.65,"cl":"B"},{"id":"C8","i":1,"x":0.8,"y":2.53,"cl":"B"},{"id":"C8","i":2,"x":0.76,"y":2.31,"cl":"B"},{"id":"C8","i":3,"x":0.77,"y":2.09,"cl":"B"},{"id":"C8","i":4,"x":0.81,"y":1.86,"cl":"B"},{"id":"C8","i":5,"x":0.9,"y":1.66,"cl":"B"},{"id":"C8","i":6,"x":1.05,"y":1.48,"cl":"B"},{"id":"C8","i":7,"x":1.28,"y":1.33,"cl":"B"},{"id":"C8","i":8,"x":1.57,"y":1.2,"cl":"B"},{"id":"C8","i":9,"x":1.86,"y":1.14,"cl":"B"},{"id":"C8","i":10,"x":2.04,"y":1.07,"cl":"B"},{"id":"C8","i":11,"x":2.1,"y":0.91,"cl":"B"},{"id":"C8","i":12,"x":2.18,"y":0.72,"cl":"B"},{"id":"C8","i":13,"x":2.35,"y":0.61,"cl":"B"},{"id":"C8","i":14,"x":2.62,"y":0.55,"cl":"B"},{"id":"C8","i":15,"x":2.88,"y":0.56,"cl":"B"},{"id":"C8","i":16,"x":3.04,"y":0.68,"cl":"B"},{"id":"C8","i":17,"x":3.09,"y":0.88,"cl":"B"},{"id":"C8","i":18,"x":3.04,"y":1.14,"cl":"B"},{"id":"C8","i":19,"x":2.93,"y":1.33,"cl":"B"},{"id":"C8","i":20,"x":2.76,"y":1.48,"cl":"B"},{"id":"C8","i":21,"x":2.57,"y":1.66,"cl":"B"},{"id":"C8","i":22,"x":2.46,"y":1.9,"cl":"B"},{"id":"C8","i":23,"x":2.37,"y":2.21,"cl":"B"},{"id":"C8","i":24,"x":2.26,"y":2.47,"cl":"B"},{"id":"C8","i":25,"x":2.15,"y":2.65,"cl":"B"},
{"id":"C9","i":0,"x":0.55,"y":1.88,"cl":"B"},{"id":"C9","i":1,"x":0.7,"y":1.73,"cl":"B"},{"id":"C9","i":2,"x":0.92,"y":1.57,"cl":"B"},{"id":"C9","i":3,"x":1.19,"y":1.43,"cl":"B"},{"id":"C9","i":4,"x":1.48,"y":1.32,"cl":"B"},{"id":"C9","i":5,"x":1.77,"y":1.21,"cl":"B"},{"id":"C9","i":6,"x":1.95,"y":1.14,"cl":"B"},{"id":"C9","i":7,"x":2.03,"y":1.01,"cl":"B"},{"id":"C9","i":8,"x":2.07,"y":0.75,"cl":"B"},{"id":"C9","i":9,"x":2.09,"y":0.5,"cl":"B"},{"id":"C9","i":10,"x":2.05,"y":0.31,"cl":"B"},{"id":"C9","i":11,"x":2.03,"y":0.12,"cl":"B"},{"id":"C9","i":12,"x":2.1,"y":-0.04,"cl":"B"},{"id":"C9","i":13,"x":2.21,"y":-0.07,"cl":"B"},{"id":"C9","i":14,"x":2.3,"y":0.06,"cl":"B"},{"id":"C9","i":15,"x":2.36,"y":0.25,"cl":"B"},{"id":"C9","i":16,"x":2.48,"y":0.36,"cl":"B"},{"id":"C9","i":17,"x":2.68,"y":0.39,"cl":"B"},{"id":"C9","i":18,"x":2.86,"y":0.33,"cl":"B"},{"id":"C9","i":19,"x":3.0,"y":0.23,"cl":"B"},{"id":"C9","i":20,"x":3.13,"y":0.25,"cl":"B"},{"id":"C9","i":21,"x":3.18,"y":0.41,"cl":"B"},{"id":"C9","i":22,"x":3.18,"y":0.69,"cl":"B"},{"id":"C9","i":23,"x":3.17,"y":0.98,"cl":"B"},{"id":"C9","i":24,"x":3.13,"y":1.2,"cl":"B"},{"id":"C9","i":25,"x":3.0,"y":1.39,"cl":"B"},{"id":"C9","i":26,"x":2.8,"y":1.52,"cl":"B"},{"id":"C9","i":27,"x":2.62,"y":1.67,"cl":"B"},{"id":"C9","i":28,"x":2.54,"y":1.9,"cl":"B"},{"id":"C9","i":29,"x":2.47,"y":2.18,"cl":"B"},{"id":"C9","i":30,"x":2.38,"y":2.43,"cl":"B"},{"id":"C9","i":31,"x":2.28,"y":2.65,"cl":"B"},
{"id":"C10","i":0,"x":0.55,"y":2.4,"cl":"B"},{"id":"C10","i":1,"x":0.65,"y":2.5,"cl":"B"},{"id":"C10","i":2,"x":0.76,"y":2.59,"cl":"B"},{"id":"C10","i":3,"x":0.85,"y":2.64,"cl":"B"},
{"id":"K2","i":0,"x":3.38,"y":-0.07,"cl":"A"},{"id":"K2","i":1,"x":3.33,"y":0.07,"cl":"A"},{"id":"K2","i":2,"x":3.38,"y":0.19,"cl":"A"},{"id":"K2","i":3,"x":3.53,"y":0.27,"cl":"A"},{"id":"K2","i":4,"x":3.73,"y":0.3,"cl":"A"},{"id":"K2","i":5,"x":3.91,"y":0.25,"cl":"A"},{"id":"K2","i":6,"x":4.01,"y":0.16,"cl":"A"},{"id":"K2","i":7,"x":4.04,"y":0.04,"cl":"A"},{"id":"K2","i":8,"x":4.02,"y":-0.07,"cl":"A"},
{"id":"K3","i":0,"x":3.28,"y":-0.07,"cl":"A"},{"id":"K3","i":1,"x":3.22,"y":0.09,"cl":"A"},{"id":"K3","i":2,"x":3.27,"y":0.24,"cl":"A"},{"id":"K3","i":3,"x":3.42,"y":0.34,"cl":"A"},{"id":"K3","i":4,"x":3.67,"y":0.37,"cl":"A"},{"id":"K3","i":5,"x":3.91,"y":0.34,"cl":"A"},{"id":"K3","i":6,"x":4.08,"y":0.23,"cl":"A"},{"id":"K3","i":7,"x":4.14,"y":0.09,"cl":"A"},{"id":"K3","i":8,"x":4.14,"y":-0.07,"cl":"A"},
{"id":"K4","i":0,"x":3.18,"y":-0.07,"cl":"A"},{"id":"K4","i":1,"x":3.13,"y":0.1,"cl":"A"},{"id":"K4","i":2,"x":3.15,"y":0.3,"cl":"A"},{"id":"K4","i":3,"x":3.31,"y":0.41,"cl":"A"},{"id":"K4","i":4,"x":3.58,"y":0.46,"cl":"A"},{"id":"K4","i":5,"x":3.87,"y":0.44,"cl":"A"},{"id":"K4","i":6,"x":4.08,"y":0.34,"cl":"A"},{"id":"K4","i":7,"x":4.18,"y":0.25,"cl":"A"},
{"id":"K5","i":0,"x":3.09,"y":-0.07,"cl":"A"},{"id":"K5","i":1,"x":3.03,"y":0.12,"cl":"A"},{"id":"K5","i":2,"x":3.05,"y":0.35,"cl":"A"},{"id":"K5","i":3,"x":3.21,"y":0.49,"cl":"A"},{"id":"K5","i":4,"x":3.49,"y":0.55,"cl":"A"},{"id":"K5","i":5,"x":3.82,"y":0.53,"cl":"A"},{"id":"K5","i":6,"x":4.07,"y":0.44,"cl":"A"},{"id":"K5","i":7,"x":4.18,"y":0.36,"cl":"A"},
{"id":"K6","i":0,"x":3.0,"y":-0.07,"cl":"A"},{"id":"K6","i":1,"x":2.93,"y":0.14,"cl":"A"},{"id":"K6","i":2,"x":2.95,"y":0.39,"cl":"A"},{"id":"K6","i":3,"x":3.11,"y":0.56,"cl":"A"},{"id":"K6","i":4,"x":3.4,"y":0.63,"cl":"A"},{"id":"K6","i":5,"x":3.75,"y":0.61,"cl":"A"},{"id":"K6","i":6,"x":4.05,"y":0.53,"cl":"A"},{"id":"K6","i":7,"x":4.18,"y":0.45,"cl":"A"},
{"id":"K7","i":0,"x":2.91,"y":-0.07,"cl":"A"},{"id":"K7","i":1,"x":2.83,"y":0.16,"cl":"A"},{"id":"K7","i":2,"x":2.85,"y":0.44,"cl":"A"},{"id":"K7","i":3,"x":3.01,"y":0.63,"cl":"A"},{"id":"K7","i":4,"x":3.31,"y":0.72,"cl":"A"},{"id":"K7","i":5,"x":3.68,"y":0.71,"cl":"A"},{"id":"K7","i":6,"x":4.0,"y":0.63,"cl":"A"},{"id":"K7","i":7,"x":4.18,"y":0.54,"cl":"A"},
{"id":"K8","i":0,"x":2.71,"y":-0.07,"cl":"A"},{"id":"K8","i":1,"x":2.67,"y":0.16,"cl":"A"},{"id":"K8","i":2,"x":2.7,"y":0.41,"cl":"A"},{"id":"K8","i":3,"x":2.82,"y":0.6,"cl":"A"},{"id":"K8","i":4,"x":3.04,"y":0.72,"cl":"A"},{"id":"K8","i":5,"x":3.33,"y":0.79,"cl":"A"},{"id":"K8","i":6,"x":3.64,"y":0.78,"cl":"A"},{"id":"K8","i":7,"x":3.96,"y":0.71,"cl":"A"},{"id":"K8","i":8,"x":4.18,"y":0.6,"cl":"A"},
{"id":"M4","i":0,"x":2.22,"y":-0.07,"cl":"A"},{"id":"M4","i":1,"x":2.26,"y":0.11,"cl":"A"},{"id":"M4","i":2,"x":2.31,"y":0.28,"cl":"A"},{"id":"M4","i":3,"x":2.35,"y":0.42,"cl":"A"},{"id":"M4","i":4,"x":2.26,"y":0.55,"cl":"A"},{"id":"M4","i":5,"x":2.06,"y":0.63,"cl":"A"},{"id":"M4","i":6,"x":1.8,"y":0.75,"cl":"A"},{"id":"M4","i":7,"x":1.63,"y":0.91,"cl":"A"},{"id":"M4","i":8,"x":1.55,"y":1.14,"cl":"A"},{"id":"M4","i":9,"x":1.55,"y":1.42,"cl":"A"},{"id":"M4","i":10,"x":1.59,"y":1.55,"cl":"A"},{"id":"M4","i":11,"x":1.72,"y":1.6,"cl":"A"},{"id":"M4","i":12,"x":2.21,"y":1.61,"cl":"A"},{"id":"M4","i":13,"x":2.71,"y":1.6,"cl":"A"},{"id":"M4","i":14,"x":3.06,"y":1.56,"cl":"A"},{"id":"M4","i":15,"x":3.16,"y":1.44,"cl":"A"},{"id":"M4","i":16,"x":3.19,"y":1.18,"cl":"A"},{"id":"M4","i":17,"x":3.26,"y":0.97,"cl":"A"},{"id":"M4","i":18,"x":3.46,"y":0.87,"cl":"A"},{"id":"M4","i":19,"x":3.78,"y":0.79,"cl":"A"},{"id":"M4","i":20,"x":4.05,"y":0.72,"cl":"A"},{"id":"M4","i":21,"x":4.18,"y":0.64,"cl":"A"}
],
"cPts":[
{"x":0.55,"y":2.15,"cl":"B"},{"x":1.34,"y":2.41,"cl":"B"},{"x":1.46,"y":2.4,"cl":"B"},{"x":1.67,"y":2.36,"cl":"B"},{"x":1.68,"y":2.29,"cl":"B"},{"x":1.71,"y":2.28,"cl":"B"},{"x":1.13,"y":2.31,"cl":"B"},{"x":1.11,"y":2.21,"cl":"B"},{"x":1.07,"y":2.13,"cl":"B"},{"x":1.42,"y":2.26,"cl":"B"},{"x":1.42,"y":2.09,"cl":"B"},{"x":1.09,"y":1.93,"cl":"B"},{"x":1.56,"y":1.89,"cl":"B"},{"x":1.49,"y":1.86,"cl":"B"},{"x":1.71,"y":1.84,"cl":"B"},{"x":1.79,"y":1.9,"cl":"B"},{"x":1.88,"y":1.92,"cl":"B"},{"x":1.95,"y":1.87,"cl":"B"},{"x":1.59,"y":1.74,"cl":"B"},{"x":1.45,"y":1.66,"cl":"B"},{"x":1.24,"y":1.7,"cl":"B"},{"x":1.83,"y":1.66,"cl":"B"},{"x":1.82,"y":1.6,"cl":"B"},{"x":2.01,"y":1.6,"cl":"B"},{"x":2.08,"y":1.6,"cl":"B"},{"x":1.65,"y":1.52,"cl":"B"},{"x":2.22,"y":1.53,"cl":"B"},{"x":2.59,"y":1.2,"cl":"B"},{"x":2.64,"y":1.01,"cl":"B"},{"x":2.67,"y":0.91,"cl":"B"},{"x":2.73,"y":0.94,"cl":"B"},{"x":2.87,"y":0.98,"cl":"B"},{"x":2.42,"y":0.71,"cl":"B"},{"x":3.0,"y":0.3,"cl":"B"},{"x":2.2,"y":0.09,"cl":"B"},
{"x":1.89,"y":1.45,"cl":"A"},{"x":2.82,"y":1.37,"cl":"A"},{"x":3.01,"y":1.28,"cl":"A"},{"x":2.13,"y":1.26,"cl":"A"},{"x":2.32,"y":1.18,"cl":"A"},{"x":2.72,"y":1.25,"cl":"A"},{"x":2.4,"y":1.11,"cl":"A"},{"x":2.21,"y":1.08,"cl":"A"},{"x":2.7,"y":1.16,"cl":"A"},{"x":2.63,"y":1.09,"cl":"A"},{"x":1.82,"y":1.11,"cl":"A"},{"x":2.15,"y":0.98,"cl":"A"},{"x":1.9,"y":0.96,"cl":"A"},{"x":2.84,"y":0.91,"cl":"A"},{"x":2.78,"y":0.79,"cl":"A"},{"x":3.34,"y":0.89,"cl":"A"},{"x":3.45,"y":0.6,"cl":"A"},{"x":3.57,"y":0.56,"cl":"A"},{"x":3.71,"y":0.55,"cl":"A"},{"x":2.52,"y":0.34,"cl":"A"},{"x":2.87,"y":0.21,"cl":"A"},{"x":3.29,"y":0.35,"cl":"A"},{"x":3.36,"y":0.31,"cl":"A"},{"x":3.23,"y":0.22,"cl":"A"},{"x":3.38,"y":0.22,"cl":"A"},{"x":3.46,"y":0.3,"cl":"A"},{"x":3.58,"y":0.39,"cl":"A"},{"x":3.67,"y":0.3,"cl":"A"},{"x":3.72,"y":0.39,"cl":"A"},{"x":3.47,"y":0.14,"cl":"A"},{"x":3.57,"y":0.06,"cl":"A"},{"x":3.67,"y":0.11,"cl":"A"},{"x":3.72,"y":0.1,"cl":"A"},{"x":3.65,"y":0.01,"cl":"A"},{"x":3.69,"y":-0.01,"cl":"A"},{"x":3.77,"y":0.03,"cl":"A"},{"x":3.84,"y":-0.01,"cl":"A"},{"x":3.87,"y":0.03,"cl":"A"},{"x":3.94,"y":0.07,"cl":"A"},{"x":3.96,"y":0.0,"cl":"A"},{"x":4.17,"y":0.2,"cl":"A"},{"x":4.18,"y":0.04,"cl":"A"},{"x":3.15,"y":0.04,"cl":"A"},{"x":3.33,"y":0.03,"cl":"A"},{"x":2.41,"y":-0.01,"cl":"A"},{"x":2.55,"y":-0.08,"cl":"A"},{"x":3.61,"y":0.02,"cl":"A"},{"x":3.28,"y":0.18,"cl":"A"},{"x":3.34,"y":0.16,"cl":"A"}
]
},
"bounds":"flush",
"spacing":96,
"hconcat":[
{
"width":305,"height":323,
"layer":[
{"data":{"name":"blue"},"mark":{"type":"line","stroke":"#6666FF","strokeWidth":1},
"encoding":{
"x":{"field":"t","type":"quantitative","scale":{"domain":[-4.2,88.2],"nice":false,"zero":false},"axis":{"orient":"top","values":[10,30,50,70],"grid":true,"gridColor":"#F2F2F2","gridWidth":0.8,"labels":false,"ticks":false,"domain":false,"title":null}},
"y":{"field":"v","type":"quantitative","scale":{"domain":[13.7,200.5],"nice":false,"zero":false},"axis":{"orient":"right","values":[25,75,125,175],"grid":true,"gridColor":"#F2F2F2","gridWidth":0.8,"labels":false,"ticks":false,"domain":false,"title":null}}}},
{"data":{"name":"fit"},"mark":{"type":"line","stroke":"#000000","strokeWidth":3.6},
"encoding":{
"x":{"field":"t","type":"quantitative","scale":{"domain":[-4.2,88.2],"nice":false,"zero":false},"axis":{"values":[0,20,40,60,80],"title":"Time (min)"}},
"y":{"field":"f","type":"quantitative","scale":{"domain":[13.7,200.5],"nice":false,"zero":false},"axis":{"values":[50,100,150,200],"title":"Particle Conc."}}}},
{"data":{"values":[{"x":87.1,"y":191.3,"lab":"(a)"}]},"mark":{"type":"text","align":"right","baseline":"middle","fontSize":17,"color":"#000000"},
"encoding":{
"x":{"field":"x","type":"quantitative","scale":{"domain":[-4.2,88.2],"nice":false,"zero":false},"axis":null},
"y":{"field":"y","type":"quantitative","scale":{"domain":[13.7,200.5],"nice":false,"zero":false},"axis":null},
"text":{"field":"lab"}}}
],
"resolve":{"axis":{"x":"independent","y":"independent"}}
},
{
"bounds":"flush",
"spacing":86,
"resolve":{"scale":{"color":"independent"},"legend":{"color":"independent"}},
"hconcat":[
{
"width":288,"height":323,
"layer":[
{"data":{"name":"bClosed"},"mark":{"type":"line","interpolate":"cardinal-closed","strokeWidth":1},
"encoding":{
"x":{"field":"x","type":"quantitative","scale":{"domain":[-3.355,0.342],"nice":false,"zero":false},"axis":{"orient":"top","values":[-3,-1],"grid":true,"gridColor":"#F2F2F2","gridWidth":0.8,"labels":false,"ticks":false,"domain":false,"title":null}},
"y":{"field":"y","type":"quantitative","scale":{"domain":[0.846,3.256],"nice":false,"zero":false},"axis":{"orient":"right","values":[1.5,2.5],"grid":true,"gridColor":"#F2F2F2","gridWidth":0.8,"labels":false,"ticks":false,"domain":false,"title":null}},
"color":{"field":"cl","type":"nominal","scale":{"domain":["A","B"],"range":["#000000","#FF0000"]},"legend":{"title":"Cluster","orient":"none","legendX":154,"legendY":56,"direction":"horizontal","titleOrient":"left","titleFontSize":17,"titleFontWeight":"bold","titleColor":"#000000","titlePadding":5,"labelFontSize":17,"labelColor":"#000000","labelOffset":2,"columnPadding":3,"symbolType":"stroke","symbolSize":135,"symbolStrokeWidth":1.2}},
"detail":{"field":"id"},
"order":{"field":"i","type":"quantitative"}}},
{"data":{"name":"bOpen"},"mark":{"type":"line","interpolate":"cardinal","strokeWidth":1},
"encoding":{
"x":{"field":"x","type":"quantitative","scale":{"domain":[-3.355,0.342],"nice":false,"zero":false},"axis":{"values":[-2,0],"labelExpr":"datum.value == -2 ? '0.01' : '1.00'","title":"log(A)"}},
"y":{"field":"y","type":"quantitative","scale":{"domain":[0.846,3.256],"nice":false,"zero":false},"axis":{"values":[1,2,3],"labelExpr":"datum.value == 1 ? '10' : datum.value == 2 ? '100' : '1000'","title":"log(tₗ)","titlePadding":11}},
"color":{"field":"cl","type":"nominal","scale":{"domain":["A","B"],"range":["#000000","#FF0000"]}},
"detail":{"field":"id"},
"order":{"field":"i","type":"quantitative"}}},
{"data":{"name":"bPts"},"mark":{"type":"circle","size":20,"opacity":1},
"encoding":{
"x":{"field":"x","type":"quantitative","scale":{"domain":[-3.355,0.342],"nice":false,"zero":false},"axis":null},
"y":{"field":"y","type":"quantitative","scale":{"domain":[0.846,3.256],"nice":false,"zero":false},"axis":null},
"color":{"field":"cl","type":"nominal","scale":{"domain":["A","B"],"range":["#000000","#FF0000"]}}}},
{"data":{"values":[{"x":0.3,"y":3.137,"lab":"(b)"}]},"mark":{"type":"text","align":"right","baseline":"middle","fontSize":17,"color":"#000000"},
"encoding":{
"x":{"field":"x","type":"quantitative","scale":{"domain":[-3.355,0.342],"nice":false,"zero":false},"axis":null},
"y":{"field":"y","type":"quantitative","scale":{"domain":[0.846,3.256],"nice":false,"zero":false},"axis":null},
"text":{"field":"lab"}}}
],
"resolve":{"axis":{"x":"independent","y":"independent"}}
},
{
"width":298,"height":314,
"layer":[
{"data":{"name":"cClosed"},"mark":{"type":"line","interpolate":"cardinal-closed","strokeWidth":1},
"encoding":{
"x":{"field":"x","type":"quantitative","scale":{"domain":[0.362,4.357],"nice":false,"zero":false},"axis":{"orient":"top","values":[1,3],"grid":true,"gridColor":"#F2F2F2","gridWidth":0.8,"labels":false,"ticks":false,"domain":false,"title":"c","titleFontSize":16,"titleX":167.5,"titleY":361,"titleAlign":"left","titleBaseline":"alphabetic","titleAngle":0}},
"y":{"field":"y","type":"quantitative","scale":{"domain":[-0.212,2.777],"nice":false,"zero":false},"axis":{"orient":"right","values":[0.5,1.5,2.5],"grid":true,"gridColor":"#F2F2F2","gridWidth":0.8,"labels":false,"ticks":false,"domain":false,"title":")","titleFontSize":22,"titleX":-122.5,"titleY":356,"titleAlign":"left","titleBaseline":"alphabetic","titleAngle":0}},
"color":{"field":"cl","type":"nominal","scale":{"domain":["A","B"],"range":["#000000","#FF0000"]},"legend":{"title":"Cluster","orient":"none","legendX":162,"legendY":55,"direction":"horizontal","titleOrient":"left","titleFontSize":17,"titleFontWeight":"bold","titleColor":"#000000","titlePadding":5,"labelFontSize":17,"labelColor":"#000000","labelOffset":2,"columnPadding":3,"symbolType":"stroke","symbolSize":135,"symbolStrokeWidth":1.2}},
"detail":{"field":"id"},
"order":{"field":"i","type":"quantitative"}}},
{"data":{"name":"cOpen"},"mark":{"type":"line","interpolate":"cardinal","strokeWidth":1},
"encoding":{
"x":{"field":"x","type":"quantitative","scale":{"domain":[0.362,4.357],"nice":false,"zero":false},"axis":{"values":[2,4],"labelPadding":1,"labelExpr":"datum.value == 2 ? '100' : '10000'","title":"log(e","titleX":166.5,"titleY":42,"titleAlign":"right","titleBaseline":"alphabetic"}},
"y":{"field":"y","type":"quantitative","scale":{"domain":[-0.212,2.777],"nice":false,"zero":false},"axis":{"values":[0,1,2],"labelExpr":"datum.value == 0 ? '1' : datum.value == 1 ? '10' : '100'","title":"log(tₑ)","titlePadding":11}},
"color":{"field":"cl","type":"nominal","scale":{"domain":["A","B"],"range":["#000000","#FF0000"]}},
"detail":{"field":"id"},
"order":{"field":"i","type":"quantitative"}}},
{"data":{"name":"cPts"},"mark":{"type":"circle","size":20,"opacity":1},
"encoding":{
"x":{"field":"x","type":"quantitative","scale":{"domain":[0.362,4.357],"nice":false,"zero":false},"axis":null},
"y":{"field":"y","type":"quantitative","scale":{"domain":[-0.212,2.777],"nice":false,"zero":false},"axis":null},
"color":{"field":"cl","type":"nominal","scale":{"domain":["A","B"],"range":["#000000","#FF0000"]}}}},
{"data":{"values":[{"x":4.3125,"y":2.624,"lab":"(c)"}]},"mark":{"type":"text","align":"right","baseline":"middle","fontSize":17,"color":"#000000"},
"encoding":{
"x":{"field":"x","type":"quantitative","scale":{"domain":[0.362,4.357],"nice":false,"zero":false},"axis":null},
"y":{"field":"y","type":"quantitative","scale":{"domain":[-0.212,2.777],"nice":false,"zero":false},"axis":null},
"text":{"field":"lab"}}}
],
"resolve":{"axis":{"x":"independent","y":"independent"}}
}
]
}
]
}
